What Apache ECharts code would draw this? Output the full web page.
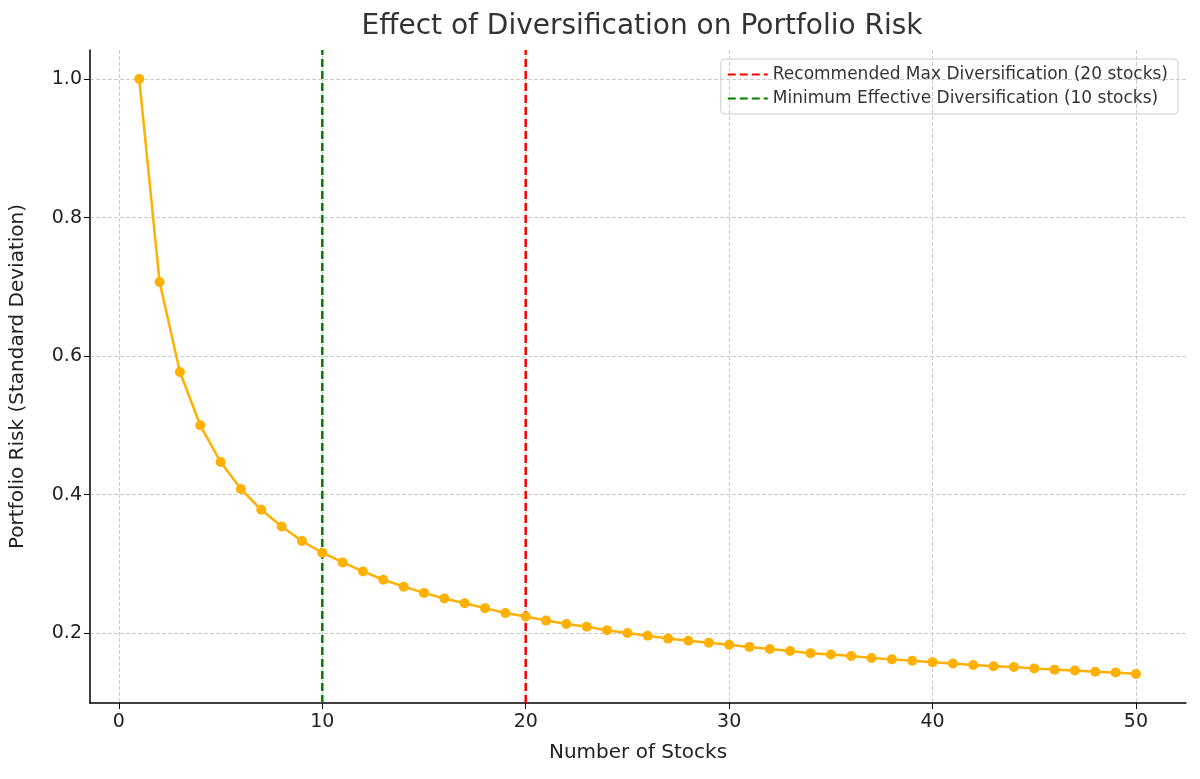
<!DOCTYPE html>
<html><head><meta charset="utf-8">
<script src="https://cdn.jsdelivr.net/npm/echarts@6/dist/echarts.min.js"></script>
<style>html,body{margin:0;background:#fff}#main{width:1200px;height:779px}</style>
</head><body><div id="main"></div>
<script>
var stocks = [];
for (var i = 1; i <= 50; i++) stocks.push(i);
var risk = [1.000,0.707,0.577,0.500,0.447,0.408,0.378,0.354,0.333,0.316,
  0.302,0.289,0.277,0.267,0.258,0.250,0.243,0.236,0.229,0.224,
  0.218,0.213,0.209,0.204,0.200,0.196,0.192,0.189,0.186,0.183,
  0.180,0.177,0.174,0.171,0.169,0.167,0.164,0.162,0.160,0.158,
  0.156,0.154,0.152,0.151,0.149,0.147,0.146,0.144,0.143,0.141];
var xTicks = [0, 10, 20, 30, 40, 50];
var yTicks = [0.2, 0.4, 0.6, 0.8, 1.0];
var yMin = 0.099, yMax = 1.042;
var maxLine = 20, minLine = 10;

var chart = echarts.init(document.getElementById('main'));
var font = 'DejaVu Sans';
chart.setOption({
  animation: false,
  textStyle: {fontFamily: font},
  title: {text: 'Effect of Diversification on Portfolio Risk', left: 637, top: 8, textAlign: 'center',
    textStyle: {fontSize: 28, fontWeight: 'normal', color: '#333', fontFamily: font}},
  grid: {left: 89, right: 14, top: 50, bottom: 76},
  legend: {right: 22, top: 59, orient: 'vertical', itemGap: 7, itemWidth: 40, itemHeight: 12,
    borderColor: '#ccc', borderWidth: 1, borderRadius: 4, padding: [7, 10, 7, 6],
    itemStyle: {opacity: 0},
    textStyle: {fontSize: 17, color: '#333'},
    data: ['Recommended Max Diversification (20 stocks)', 'Minimum Effective Diversification (10 stocks)']},
  xAxis: {type: 'value', min: -1.42, max: 52.46, name: 'Number of Stocks', nameLocation: 'middle', nameGap: 40,
    nameTextStyle: {fontSize: 20, color: '#222'},
    axisLine: {onZero: false, lineStyle: {color: '#000', width: 1.5}},
    axisTick: {customValues: xTicks, length: 6, lineStyle: {color: '#000'}},
    axisLabel: {customValues: xTicks, fontSize: 19, color: '#222', margin: 10},
    splitLine: {show: true, lineStyle: {type: 'dashed', color: '#ccc'}}},
  yAxis: {type: 'value', min: yMin, max: yMax, name: 'Portfolio Risk (Standard Deviation)', nameLocation: 'middle', nameGap: 62,
    nameTextStyle: {fontSize: 20, color: '#222'},
    axisLine: {show: true, onZero: false, lineStyle: {color: '#000', width: 1.5}},
    axisTick: {show: true, length: 6, customValues: yTicks, lineStyle: {color: '#000'}},
    axisLabel: {customValues: yTicks, fontSize: 19, color: '#222', formatter: function (v) { return v.toFixed(1); }},
    splitLine: {show: true, lineStyle: {type: 'dashed', color: '#ccc'}}},
  series: [
    {type: 'line', data: stocks.map(function (s, i) { return [s, risk[i]]; }),
      symbol: 'circle', symbolSize: 10, itemStyle: {color: '#FFB000'}, lineStyle: {color: '#FFB000', width: 2.5}, z: 3},
    {name: 'Recommended Max Diversification (20 stocks)', type: 'line', data: [[maxLine, yMin], [maxLine, yMax]],
      symbol: 'none', itemStyle: {color: '#ff0000'}, lineStyle: {color: '#ff0000', type: [8, 4], width: 2.5}},
    {name: 'Minimum Effective Diversification (10 stocks)', type: 'line', data: [[minLine, yMin], [minLine, yMax]],
      symbol: 'none', itemStyle: {color: '#008000'}, lineStyle: {color: '#008000', type: [8, 4], width: 2.5}}
  ]
});
</script></body></html>
